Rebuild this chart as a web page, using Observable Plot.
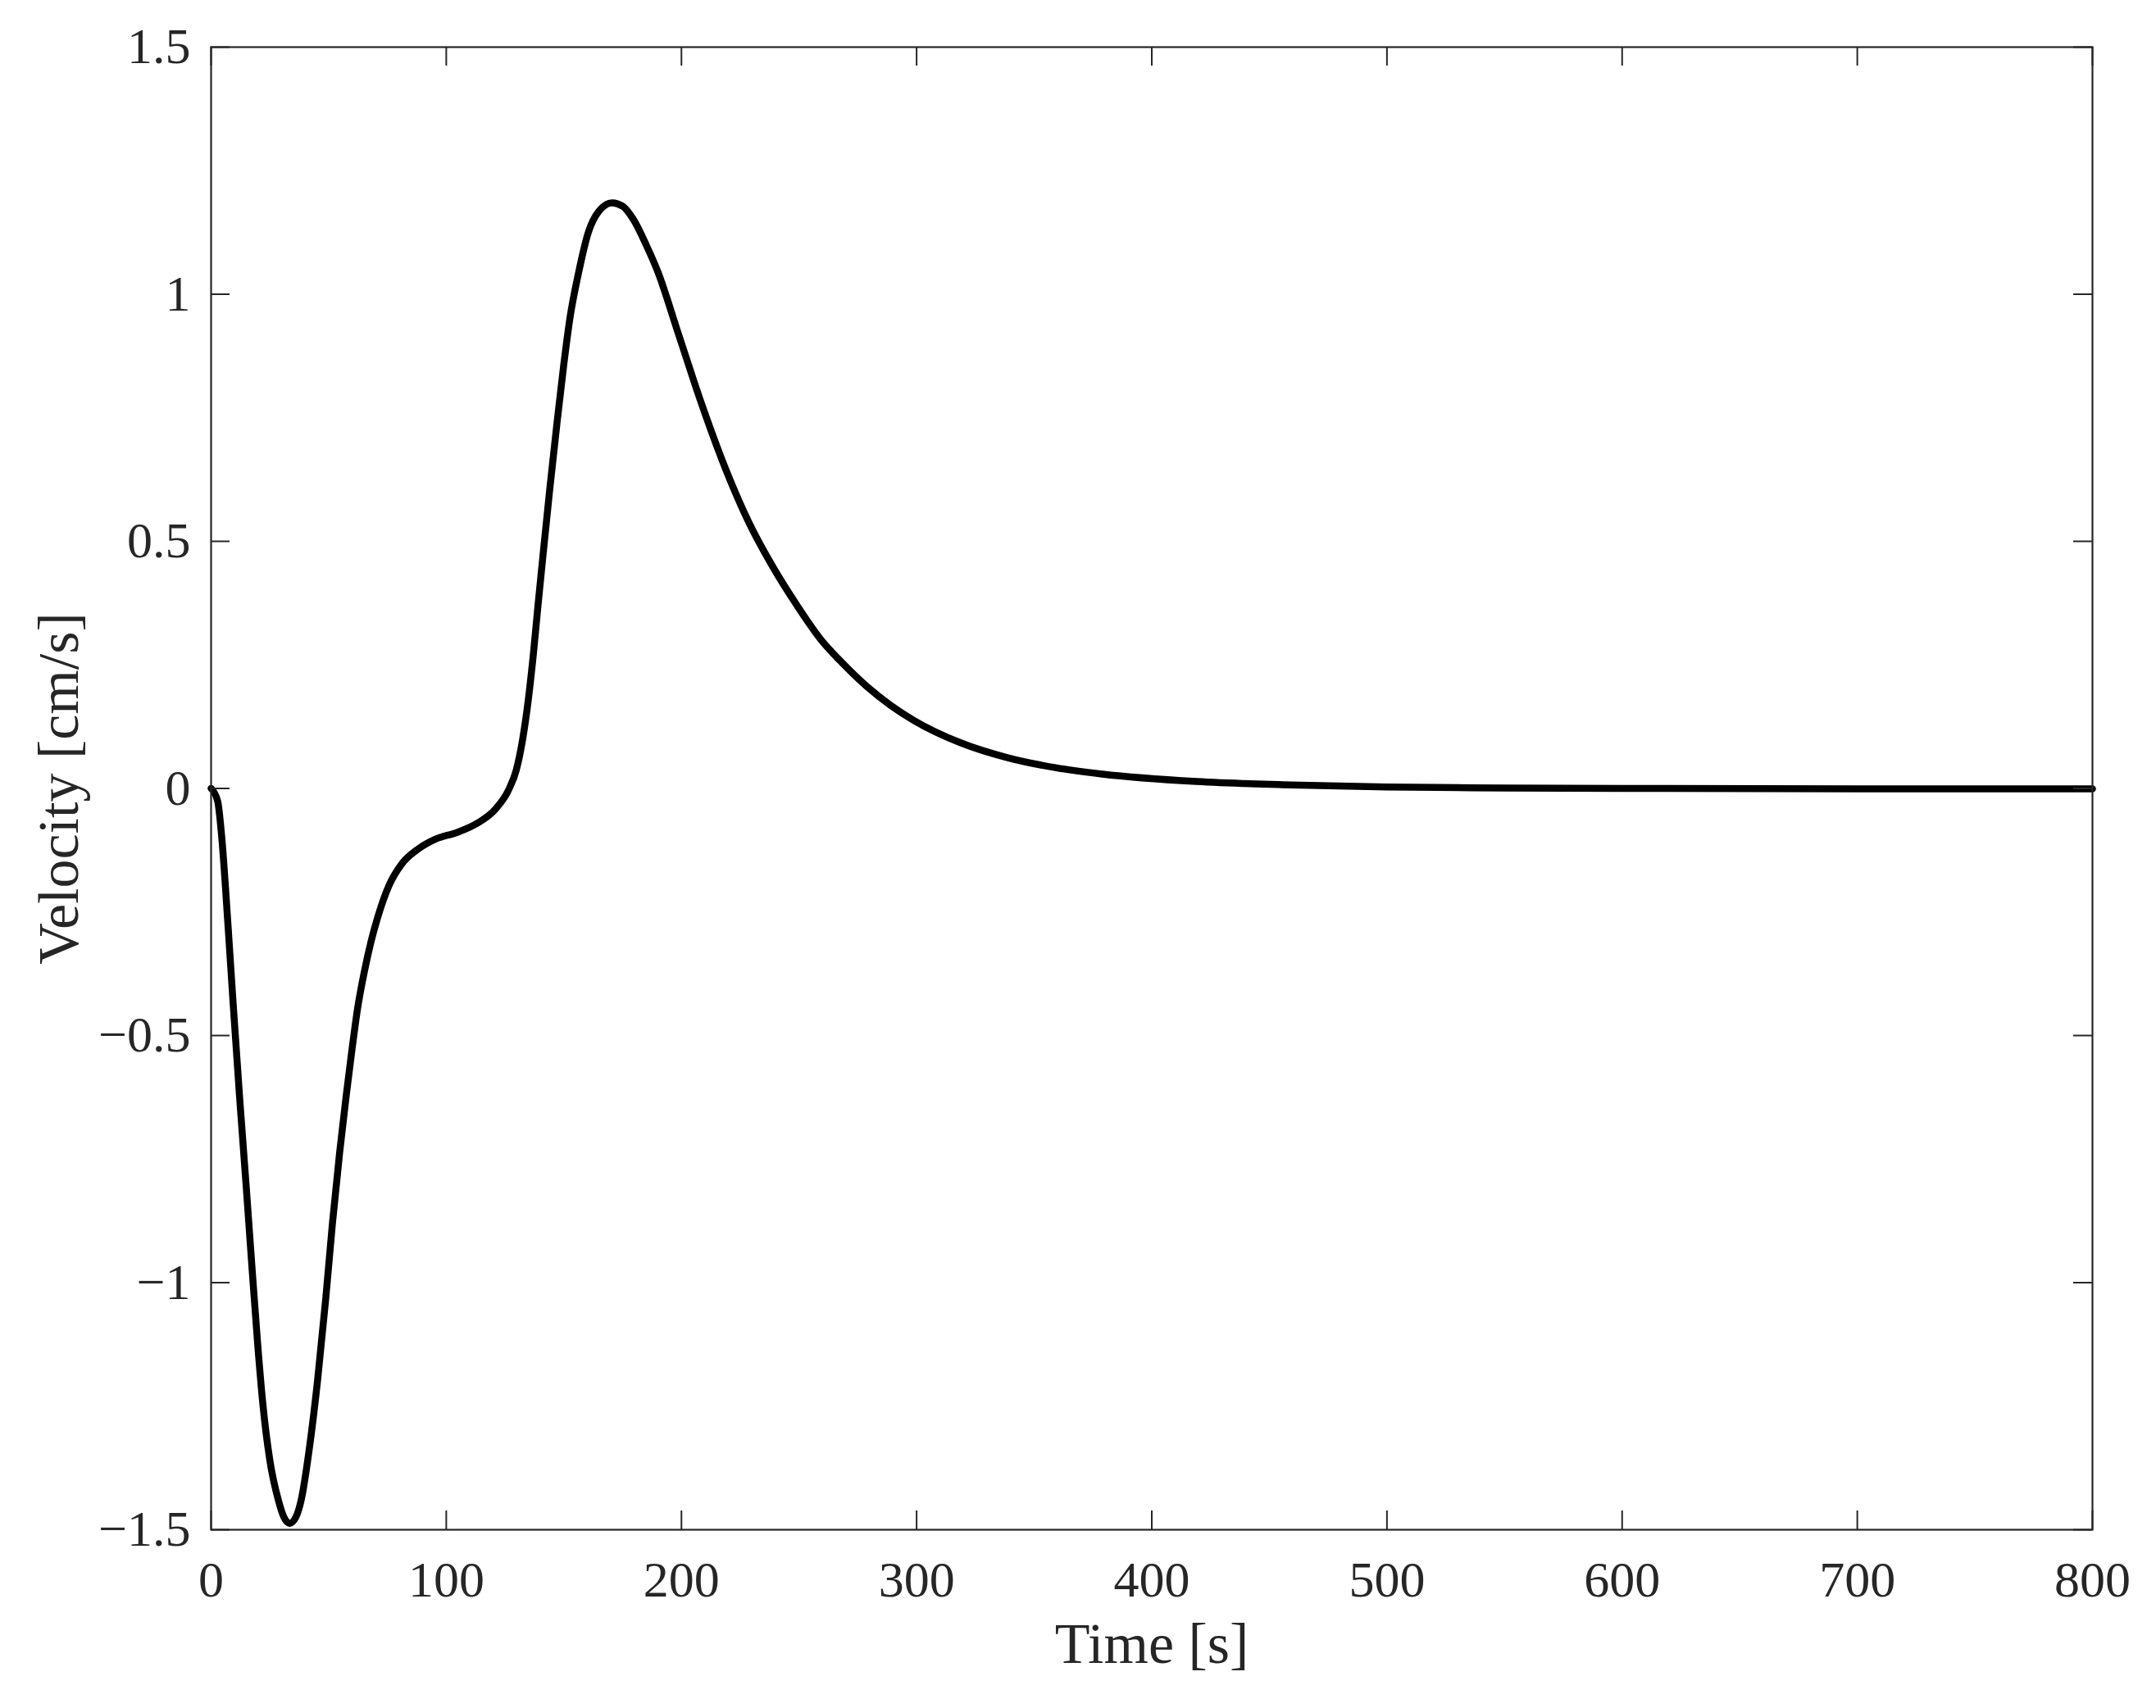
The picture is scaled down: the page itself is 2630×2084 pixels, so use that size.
<!DOCTYPE html>
<html>
<head>
<meta charset="utf-8">
<script src="https://cdn.jsdelivr.net/npm/d3@7"></script>
<script src="https://cdn.jsdelivr.net/npm/@observablehq/plot@0.6"></script>
<style>
  html, body { margin: 0; padding: 0; background: #ffffff; }
  #chart svg { display: block; }
</style>
</head>
<body>
<div id="chart"></div>
<script>
// Time [s]
const time = [0, 2.8, 4.5, 7, 9.3, 12.2, 15, 17.4, 19.9, 22, 25, 28.6, 31, 33.4, 36, 38.3,
  41.8, 45.3, 48.8, 51.6, 54.7, 57.5, 60, 62.3, 65.2, 68, 70.9, 75.6, 81.2, 88.2, 95.2,
  104.6, 112.6, 120.9, 126.6, 129.7, 132.5, 134.9, 137, 139, 141.2, 144, 147.1, 149.9,
  152.7, 156.2, 160.4, 164.9, 170.5, 175, 179.5, 185, 190, 198.7, 208.8, 218.9, 228.7,
  238.8, 248.9, 259, 268.8, 278.9, 289, 298.7, 318.9, 338.8, 359, 378.9, 419, 459, 500,
  550, 600, 700, 800];
// Velocity [cm/s]
const velocity = [0, -0.026, -0.097, -0.263, -0.43, -0.63, -0.81, -0.97, -1.13, -1.245,
  -1.36, -1.44, -1.475, -1.487, -1.475, -1.44, -1.335, -1.197, -1.03, -0.88, -0.735,
  -0.62, -0.525, -0.445, -0.37, -0.31, -0.26, -0.197, -0.152, -0.122, -0.103, -0.089,
  -0.072, -0.042, -0.002, 0.036, 0.1, 0.18, 0.27, 0.37, 0.475, 0.605, 0.74, 0.855,
  0.955, 1.042, 1.125, 1.168, 1.185, 1.178, 1.152, 1.10, 1.045, 0.92, 0.775, 0.645, 0.538,
  0.449, 0.372, 0.303, 0.252, 0.206, 0.168, 0.138, 0.092, 0.062, 0.042, 0.029, 0.014,
  0.007, 0.003, 0.001, 0, -0.001, -0.001];

const xTicks = [0, 100, 200, 300, 400, 500, 600, 700, 800];
const yTicks = [-1.5, -1, -0.5, 0, 0.5, 1, 1.5];
const xLabel = "Time [s]";
const yLabel = "Velocity [cm/s]";

const data = time.map((t, i) => ({t, v: velocity[i]}));

const axisColor = "#262626";
const font = "'Liberation Serif', 'Times New Roman', serif";
const tickLen = 23;
const fmt = d => (d < 0 ? "\u2212" + Math.abs(d) : String(d));

const chart = Plot.plot({
  width: 2630,
  height: 2084,
  marginLeft: 257,
  marginRight: 78,
  marginTop: 57,
  marginBottom: 218,
  style: {background: "#ffffff", fontFamily: font, color: axisColor, overflow: "visible"},
  x: {domain: [0, 800], ticks: xTicks},
  y: {domain: [-1.5, 1.5], ticks: yTicks},
  marks: [
    Plot.line(data, {x: "t", y: "v", stroke: "#000000", strokeWidth: 8.5, curve: "monotone-x", strokeLinejoin: "round"}),
    // inward ticks: bottom, top
    Plot.ruleX(xTicks, {x: d => d, y1: -1.5, y2: -1.5, insetTop: -tickLen, stroke: axisColor, strokeWidth: 2}),
    Plot.ruleX(xTicks, {x: d => d, y1: 1.5, y2: 1.5, insetBottom: -tickLen, stroke: axisColor, strokeWidth: 2}),
    // inward ticks: left, right
    Plot.ruleY(yTicks, {y: d => d, x1: 0, x2: 0, insetRight: -tickLen, stroke: axisColor, strokeWidth: 2}),
    Plot.ruleY(yTicks, {y: d => d, x1: 800, x2: 800, insetLeft: -tickLen, stroke: axisColor, strokeWidth: 2}),
    Plot.frame({stroke: axisColor, strokeWidth: 2.2}),
    Plot.axisX(xTicks, {anchor: "bottom", tickSize: 0, tickPadding: 37, fontSize: 62, label: null, tickFormat: fmt, fill: axisColor}),
    Plot.axisY(yTicks, {anchor: "left", tickSize: 0, tickPadding: 25, fontSize: 62, label: null, tickFormat: fmt, fill: axisColor}),
    Plot.text([xLabel], {text: d => d, frameAnchor: "bottom", dy: 140, fontSize: 70, fill: axisColor, lineAnchor: "middle", textAnchor: "middle"}),
    Plot.text([yLabel], {text: d => d, frameAnchor: "left", dx: -185, rotate: -90, fontSize: 70, fill: axisColor, lineAnchor: "middle", textAnchor: "middle"})
  ]
});
document.getElementById("chart").appendChild(chart);
</script>
</body>
</html>
